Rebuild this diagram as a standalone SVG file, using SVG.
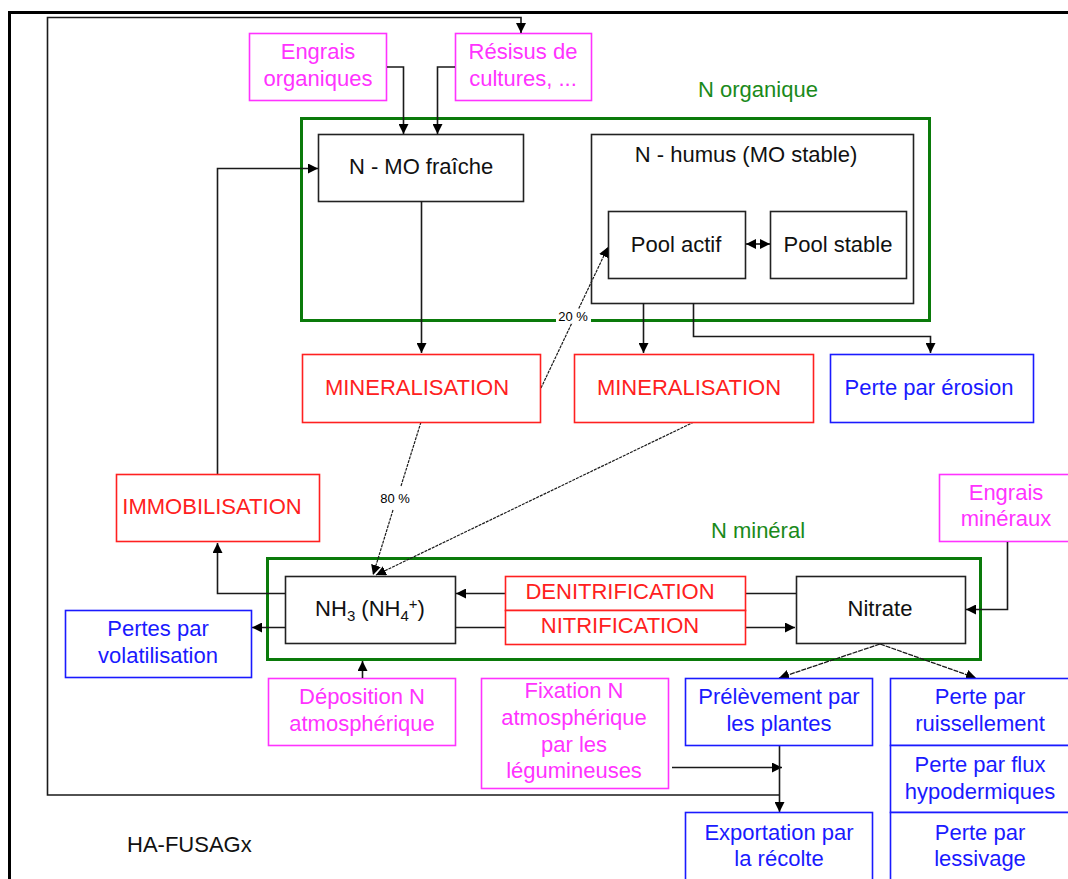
<svg xmlns="http://www.w3.org/2000/svg" width="1068" height="879" viewBox="0 0 1068 879">
  <style>
    text { font-family: "Liberation Sans", Arial, sans-serif; font-size: 22px; text-anchor: middle; }
    .small { font-size: 13px; fill: #000; }
    .box { fill: #fff; stroke-width: 1.6; }
    .blk { stroke: #222; } .blk-t { fill: #111; }
    .mag { stroke: #ff33ff; } .mag-t { fill: #ff33ff; }
    .red { stroke: #ff2020; } .red-t { fill: #ff2020; }
    .blu { stroke: #1a1aff; } .blu-t { fill: #1a1aff; }
    .grn { fill: none; stroke: #0a7a0a; stroke-width: 3; } .grn-t { fill: #1a8a1a; }
    .link { fill: none; stroke: #1a1a1a; stroke-width: 1.6; }
    .thin { fill: none; stroke: #1a1a1a; stroke-width: 1.2; stroke-dasharray: 3 1; }
    .fine { fill: none; stroke: #1a1a1a; stroke-width: 1.3; stroke-dasharray: 5 1; }
  </style>
  <defs>
    <marker id="arr" markerUnits="userSpaceOnUse" markerWidth="10" markerHeight="10" refX="10" refY="5" orient="auto-start-reverse">
      <path d="M0,0 L10,5 L0,10 z" fill="#000"/>
    </marker>
  </defs>

  <rect width="1068" height="879" fill="#fff"/>
  <!-- page frame -->
  <rect x="9.5" y="12.5" width="1080" height="900" fill="none" stroke="#000" stroke-width="3"/>

  <!-- compartments -->
  <g id="n-organique">
    <rect class="grn" x="301.5" y="118.5" width="628" height="202"/>
    <text class="grn-t" x="758" y="97">N organique</text>
  </g>
  <g id="n-mineral">
    <rect class="grn" x="267.5" y="558.5" width="713" height="101"/>
    <text class="grn-t" x="758" y="538">N minéral</text>
  </g>

  <!-- inputs -->
  <g id="engrais-organiques">
    <rect class="box mag" x="249.5" y="33.5" width="137" height="67"/>
    <text class="mag-t" x="318" y="59">Engrais</text>
    <text class="mag-t" x="318" y="86">organiques</text>
  </g>
  <g id="residus">
    <rect class="box mag" x="455.5" y="33.5" width="136" height="67"/>
    <text class="mag-t" x="523" y="59">Résisus de</text>
    <text class="mag-t" x="523" y="86">cultures, ...</text>
  </g>
  <g id="engrais-mineraux">
    <rect class="box mag" x="939.5" y="474.5" width="135" height="67"/>
    <text class="mag-t" x="1006" y="500">Engrais</text>
    <text class="mag-t" x="1006" y="526">minéraux</text>
  </g>
  <g id="deposition">
    <rect class="box mag" x="268.5" y="678.5" width="187" height="67"/>
    <text class="mag-t" x="362" y="704">Déposition N</text>
    <text class="mag-t" x="362" y="731">atmosphérique</text>
  </g>
  <g id="fixation">
    <rect class="box mag" x="481.5" y="678.5" width="187" height="110"/>
    <text class="mag-t" x="574" y="698">Fixation N</text>
    <text class="mag-t" x="574" y="725">atmosphérique</text>
    <text class="mag-t" x="574" y="752">par les</text>
    <text class="mag-t" x="574" y="778">légumineuses</text>
  </g>

  <!-- pools -->
  <g id="mo-fraiche">
    <rect class="box blk" x="318.5" y="134.5" width="205" height="67"/>
    <text class="blk-t" x="421" y="174">N - MO fraîche</text>
  </g>
  <g id="humus">
    <rect class="blk" fill="none" stroke-width="1.6" x="591.5" y="134.5" width="322" height="169"/>
    <text class="blk-t" x="746" y="162">N - humus (MO stable)</text>
  </g>
  <g id="pool-actif">
    <rect class="box blk" x="608.5" y="211.5" width="137" height="67"/>
    <text class="blk-t" x="676" y="252">Pool actif</text>
  </g>
  <g id="pool-stable">
    <rect class="box blk" x="770.5" y="211.5" width="136" height="67"/>
    <text class="blk-t" x="838" y="252">Pool stable</text>
  </g>
  <g id="nh3">
    <rect class="box blk" x="285.5" y="576.5" width="170" height="67"/>
    <text class="blk-t" x="370" y="616">NH<tspan font-size="15" dy="5">3</tspan><tspan dy="-5"> (NH</tspan><tspan font-size="15" dy="5">4</tspan><tspan font-size="15" dy="-12">+</tspan><tspan dy="7">)</tspan></text>
  </g>
  <g id="nitrate">
    <rect class="box blk" x="796.5" y="576.5" width="169" height="67"/>
    <text class="blk-t" x="880" y="616">Nitrate</text>
  </g>

  <!-- connectors -->
  <g id="connectors">
    <polyline class="link" stroke="#333" stroke-width="2" points="779,795 47.5,795 47.5,17.5 521,17.5 521,33" marker-end="url(#arr)"/>
    <polyline class="link" points="387,67 403.5,67 403.5,134" marker-end="url(#arr)"/>
    <polyline class="link" points="455,67 437.5,67 437.5,134" marker-end="url(#arr)"/>
    <polyline class="link" points="217.5,474 217.5,168.5 318,168.5" marker-end="url(#arr)"/>
    <line class="link" x1="421.5" y1="201" x2="421.5" y2="353" marker-end="url(#arr)"/>
    <line class="link" x1="643.5" y1="303" x2="643.5" y2="353" marker-end="url(#arr)"/>
    <polyline class="link" points="693.5,303 693.5,336.5 930.5,336.5 930.5,353" marker-end="url(#arr)"/>
    <line class="link" x1="746" y1="244" x2="770" y2="244" marker-start="url(#arr)" marker-end="url(#arr)"/>
    <line class="thin" x1="541" y1="388" x2="608" y2="247" marker-end="url(#arr)"/>
    <line class="thin" x1="421" y1="422" x2="401" y2="486"/>
    <line class="thin" x1="393" y1="510" x2="373" y2="575" marker-end="url(#arr)"/>
    <line class="thin" x1="694" y1="422" x2="376" y2="575" marker-end="url(#arr)"/>
    <polyline class="link" points="285,593.5 217.5,593.5 217.5,543" marker-end="url(#arr)"/>
    <line class="link" x1="285" y1="627.5" x2="252" y2="627.5" marker-end="url(#arr)"/>
    <polyline class="link" points="796,593.5 745,593.5"/>
    <line class="link" x1="505" y1="593.5" x2="456" y2="593.5" marker-end="url(#arr)"/>
    <line class="link" x1="455" y1="627.5" x2="505" y2="627.5"/>
    <line class="link" x1="745" y1="627.5" x2="795" y2="627.5" marker-end="url(#arr)"/>
    <polyline class="link" points="1007.5,542 1007.5,609.5 966,609.5" marker-end="url(#arr)"/>
    <line class="link" x1="362.5" y1="678" x2="362.5" y2="661" marker-end="url(#arr)"/>
    <line class="fine" x1="880" y1="644" x2="779" y2="678" marker-end="url(#arr)"/>
    <line class="fine" x1="880" y1="644" x2="976" y2="678" marker-end="url(#arr)"/>
    <line class="link" x1="672" y1="767.5" x2="782" y2="767.5" marker-end="url(#arr)"/>
    <line class="link" x1="779.5" y1="746" x2="779.5" y2="812" marker-end="url(#arr)"/>
  </g>

  <!-- percentage labels -->
  <g id="labels">
    <rect x="556" y="309" width="35" height="14" fill="#fff"/>
    <text class="small" x="573" y="321">20 %</text>
    <text class="small" x="395" y="503">80 %</text>
  </g>

  <!-- processes -->
  <g id="mineralisation-1">
    <rect class="box red" x="302.5" y="354.5" width="238" height="68"/>
    <text class="red-t" x="417" y="395">MINERALISATION</text>
  </g>
  <g id="mineralisation-2">
    <rect class="box red" x="574.5" y="354.5" width="239" height="68"/>
    <text class="red-t" x="689" y="395">MINERALISATION</text>
  </g>
  <g id="immobilisation">
    <rect class="box red" x="116.5" y="474.5" width="203" height="67"/>
    <text class="red-t" x="212" y="514">IMMOBILISATION</text>
  </g>
  <g id="denitrification">
    <rect class="box red" x="505.5" y="576.5" width="240" height="34"/>
    <text class="red-t" x="620" y="599">DENITRIFICATION</text>
  </g>
  <g id="nitrification">
    <rect class="box red" x="505.5" y="610.5" width="240" height="34"/>
    <text class="red-t" x="620" y="633">NITRIFICATION</text>
  </g>

  <!-- losses and exports -->
  <g id="erosion">
    <rect class="box blu" x="830.5" y="354.5" width="203" height="68"/>
    <text class="blu-t" x="929" y="395">Perte par érosion</text>
  </g>
  <g id="volatilisation">
    <rect class="box blu" x="65.5" y="610.5" width="186" height="67"/>
    <text class="blu-t" x="158" y="636">Pertes par</text>
    <text class="blu-t" x="158" y="663">volatilisation</text>
  </g>
  <g id="prelevement">
    <rect class="box blu" x="685.5" y="678.5" width="187" height="67"/>
    <text class="blu-t" x="779" y="704">Prélèvement par</text>
    <text class="blu-t" x="779" y="731">les plantes</text>
  </g>
  <g id="exportation">
    <rect class="box blu" x="685.5" y="812.5" width="187" height="90"/>
    <text class="blu-t" x="779" y="840">Exportation par</text>
    <text class="blu-t" x="779" y="866">la récolte</text>
  </g>
  <g id="ruissellement">
    <rect class="box blu" x="890.5" y="678.5" width="190" height="67"/>
    <text class="blu-t" x="980" y="704">Perte par</text>
    <text class="blu-t" x="980" y="731">ruissellement</text>
  </g>
  <g id="hypodermique">
    <rect class="box blu" x="890.5" y="745.5" width="190" height="67"/>
    <text class="blu-t" x="980" y="772">Perte par flux</text>
    <text class="blu-t" x="980" y="799">hypodermiques</text>
  </g>
  <g id="lessivage">
    <rect class="box blu" x="890.5" y="812.5" width="190" height="90"/>
    <text class="blu-t" x="980" y="840">Perte par</text>
    <text class="blu-t" x="980" y="866">lessivage</text>
  </g>

  <text x="127" y="852" fill="#111" style="text-anchor:start">HA-FUSAGx</text>
</svg>
